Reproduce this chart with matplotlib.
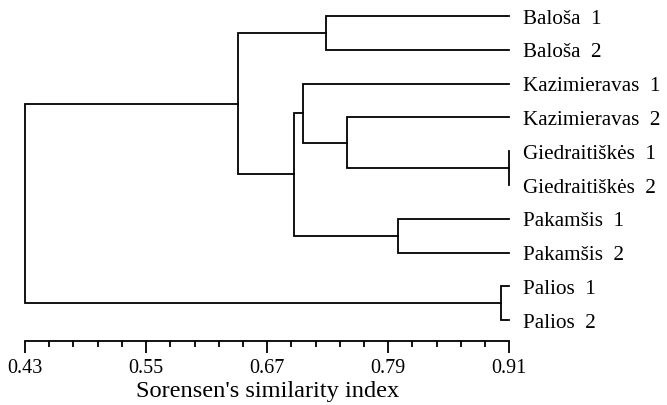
import matplotlib
matplotlib.use("Agg")
import matplotlib.pyplot as plt
import numpy as np

plt.rcParams["font.family"] = ["Liberation Serif", "DejaVu Serif"]

# leaf labels, top to bottom
leaves = ["Baloša  1", "Baloša  2", "Kazimieravas  1", "Kazimieravas  2",
          "Giedraitiškės  1", "Giedraitiškės  2", "Pakamšis  1", "Pakamšis  2",
          "Palios  1", "Palios  2"]

# merges: (left cluster, right cluster, similarity); new clusters get ids 10, 11, ...
merge_left = [0, 4, 3, 2, 6, 13, 10, 8, 16]
merge_right = [1, 5, 11, 12, 7, 14, 15, 9, 17]
merge_sim = [0.728, 0.91, 0.749, 0.706, 0.800, 0.697, 0.641, 0.902, 0.43]

LEAF_SIM = 0.91
x_major = [0.43, 0.55, 0.67, 0.79, 0.91]

fig = plt.figure(figsize=(6.67, 4.06), dpi=100)
ax = fig.add_axes([25 / 667, 0.1584, (509.3 - 25) / 667, 0.8416])

pos = {i: (LEAF_SIM, float(i)) for i in range(len(leaves))}
for k, (a, b, s) in enumerate(zip(merge_left, merge_right, merge_sim)):
    xa, ya = pos[a]
    xb, yb = pos[b]
    ax.plot([xa, s, s, xb], [ya, ya, yb, yb], color="black", lw=1.3,
            solid_joinstyle="miter", clip_on=False)
    pos[len(leaves) + k] = (s, (ya + yb) / 2)

for i, name in enumerate(leaves):
    ax.annotate(name, xy=(LEAF_SIM, i), xytext=(10, -1.5), textcoords="offset points",
                va="center", ha="left", fontsize=15.2, annotation_clip=False)

ax.set_xlim(0.43, 0.91)
ax.set_ylim(9.607, -0.503)
ax.set_yticks([])
for side in ["left", "top", "right"]:
    ax.spines[side].set_visible(False)
ax.spines["bottom"].set_linewidth(1.3)

ax.set_xticks(x_major)
ax.set_xticklabels([f"{v:.2f}" for v in x_major], fontsize=14.5)
ax.set_xticks(np.arange(0.43, 0.9101, 0.024), minor=True)
ax.tick_params(axis="x", which="major", length=8.6, width=1.3, pad=4)
ax.tick_params(axis="x", which="minor", length=4.3, width=1.3)
ax.set_xlabel("Sorensen's similarity index", fontsize=17.6, labelpad=2)

fig.savefig("out.png", dpi=100)
